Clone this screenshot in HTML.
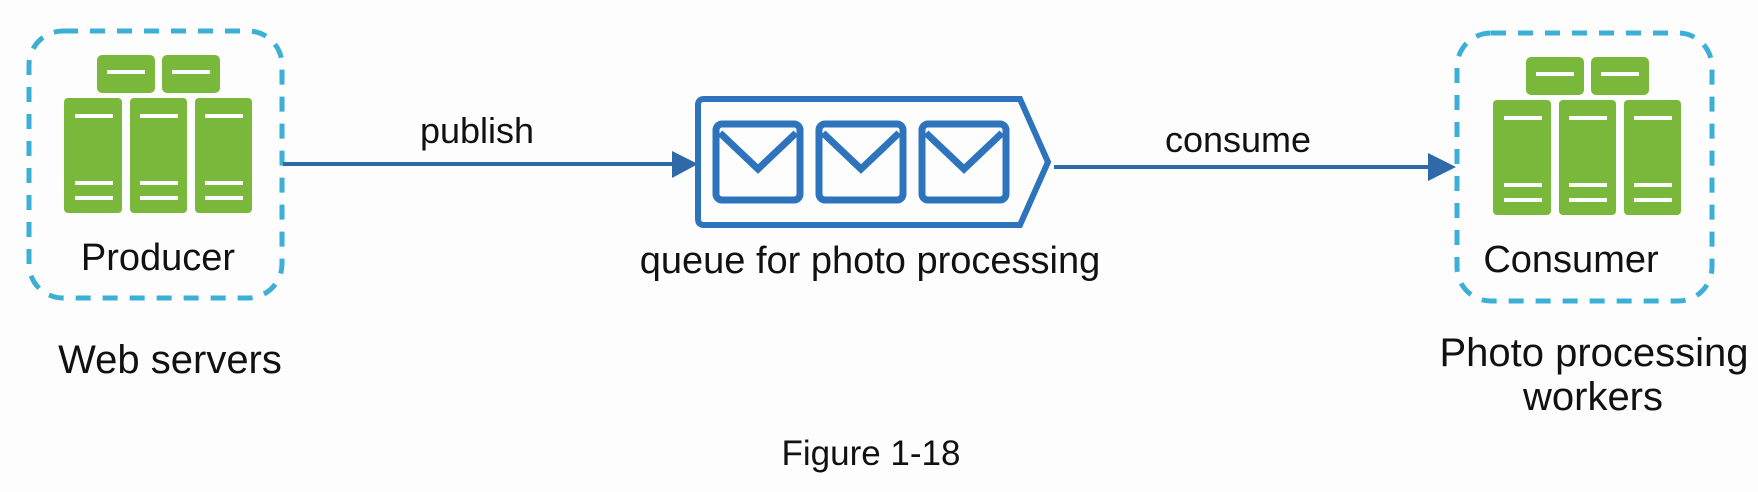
<!DOCTYPE html>
<html><head><meta charset="utf-8"><style>
html,body{margin:0;padding:0;background:#fdfdfd;width:1758px;height:492px;overflow:hidden}
svg text{font-family:"Liberation Sans",Arial,sans-serif;fill:#111}
</style></head><body>
<svg width="1758" height="492" viewBox="0 0 1758 492">
<defs>
<g id="srv">
  <rect x="33" y="26" width="58" height="38" rx="5" fill="#7ab83c"/>
  <rect x="98" y="26" width="58" height="38" rx="5" fill="#7ab83c"/>
  <rect x="43" y="41" width="38" height="4" fill="#fff"/>
  <rect x="108" y="41" width="38" height="4" fill="#fff"/>
  <rect x="0" y="69" width="58" height="115" rx="4" fill="#7ab83c"/>
  <rect x="66" y="69" width="57" height="115" rx="4" fill="#7ab83c"/>
  <rect x="131" y="69" width="57" height="115" rx="4" fill="#7ab83c"/>
  <g fill="#fff">
    <rect x="11" y="85" width="38" height="4"/><rect x="11" y="152" width="38" height="4"/><rect x="11" y="167" width="38" height="4"/>
    <rect x="76" y="85" width="38" height="4"/><rect x="76" y="152" width="38" height="4"/><rect x="76" y="167" width="38" height="4"/>
    <rect x="141" y="85" width="38" height="4"/><rect x="141" y="152" width="38" height="4"/><rect x="141" y="167" width="38" height="4"/>
  </g>
</g>
<g id="env">
  <rect x="3" y="3" width="84" height="76" rx="6" fill="none" stroke="#2e74bd" stroke-width="7"/>
  <polyline points="7,12 45,48 83,12" fill="none" stroke="#2e74bd" stroke-width="7"/>
</g>
</defs>

<g>
  <rect x="29" y="31" width="253" height="267" rx="34" fill="none" stroke="#3cafd6" stroke-width="5" stroke-dasharray="15 12"/>
  <use href="#srv" x="64" y="29"/>
  <text x="158" y="270" font-size="38" text-anchor="middle">Producer</text>
  <text x="170" y="373" font-size="40" text-anchor="middle">Web servers</text>
</g>

<g>
  <line x1="283" y1="164" x2="676" y2="164" stroke="#2e6aa8" stroke-width="4"/>
  <polygon points="672,151 698,164 672,178" fill="#2e6aa8"/>
  <text x="477" y="143" font-size="36" text-anchor="middle">publish</text>
</g>

<g>
  <path d="M704,99 H1020 L1048,162 L1020,225 H704 Q698,225 698,219 V105 Q698,99 704,99 Z" fill="none" stroke="#2e74bd" stroke-width="6"/>
  <use href="#env" x="713" y="121"/>
  <use href="#env" x="816" y="121"/>
  <use href="#env" x="919" y="121"/>
  <text x="870" y="273" font-size="38" text-anchor="middle">queue for photo processing</text>
</g>

<g>
  <line x1="1054" y1="167" x2="1432" y2="167" stroke="#2e6aa8" stroke-width="4"/>
  <polygon points="1428,153 1456,167 1428,181" fill="#2e6aa8"/>
  <text x="1238" y="152" font-size="36" text-anchor="middle">consume</text>
</g>

<g>
  <rect x="1457" y="33" width="255" height="268" rx="34" fill="none" stroke="#3cafd6" stroke-width="5" stroke-dasharray="15 12"/>
  <use href="#srv" x="1493" y="31"/>
  <text x="1571" y="272" font-size="38" text-anchor="middle">Consumer</text>
  <text x="1594" y="366" font-size="40" text-anchor="middle">Photo processing</text>
  <text x="1593" y="410" font-size="40" text-anchor="middle">workers</text>
</g>

<text x="871" y="465" font-size="35" text-anchor="middle">Figure 1-18</text>
</svg>
</body></html>
